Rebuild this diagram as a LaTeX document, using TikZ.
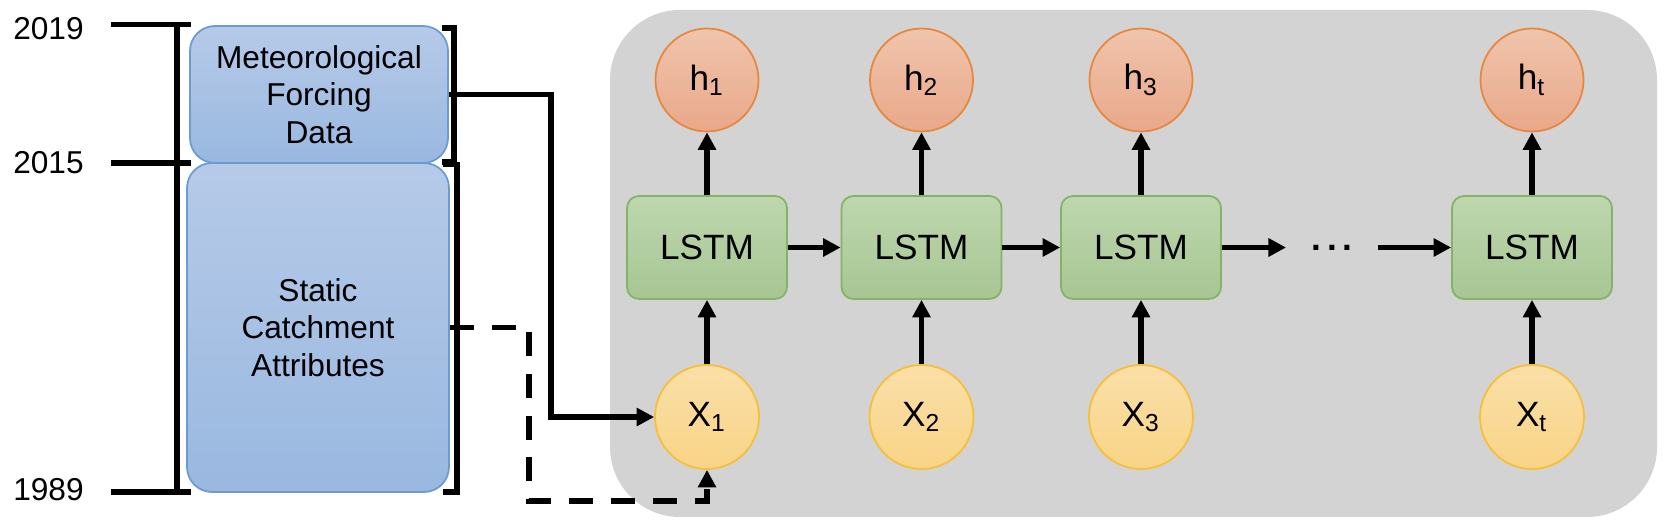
\documentclass[tikz,border=0pt]{standalone}
\usepackage{fontspec}
\setmainfont{Liberation Sans}
\usepackage{tikz}
\usetikzlibrary{arrows.meta, positioning, calc}
\definecolor{panelgray}{RGB}{211,211,211}
\definecolor{bluetop}{RGB}{182,202,232}
\definecolor{bluebot}{RGB}{153,184,224}
\definecolor{blueline}{RGB}{108,155,210}
\definecolor{greentop}{RGB}{190,215,174}
\definecolor{greenbot}{RGB}{166,198,147}
\definecolor{greenline}{RGB}{130,179,102}
\definecolor{orangetop}{RGB}{240,196,172}
\definecolor{orangebot}{RGB}{233,168,138}
\definecolor{orangeline}{RGB}{229,135,63}
\definecolor{yellowtop}{RGB}{250,223,168}
\definecolor{yellowbot}{RGB}{248,212,134}
\definecolor{yellowline}{RGB}{245,191,58}

\begin{document}
\begin{tikzpicture}[
    databox/.style={draw=blueline, line width=0.5pt, rounded corners=0.25cm, top color=bluetop, bottom color=bluebot, align=center, inner sep=0pt, font=\fontsize{9}{10.7}\selectfont},
    cellbox/.style={draw=greenline, line width=0.5pt, rounded corners=0.12cm, top color=greentop, bottom color=greenbot, minimum width=1.6cm, minimum height=1.03cm, inner sep=0pt, font=\fontsize{10}{12}\selectfont},
    outnode/.style={circle, draw=orangeline, line width=0.5pt, top color=orangetop, bottom color=orangebot, minimum size=1.03cm, inner sep=0pt, font=\fontsize{10}{12}\selectfont},
    innode/.style={circle, draw=yellowline, line width=0.5pt, top color=yellowtop, bottom color=yellowbot, minimum size=1.04cm, inner sep=0pt, font=\fontsize{10}{12}\selectfont},
    link/.style={line width=1.6pt, -{Triangle[length=5pt, width=5pt]}},
    bracket/.style={line width=1.6pt},
    year/.style={inner sep=0pt, font=\fontsize{9}{10.5}\selectfont}
]
    % Define dimensions
    \def\rowout{-0.80}
    \def\rowcell{-2.475}
    \def\rowin{-4.17}

    \useasboundingbox (0,0) rectangle (16.8,-5.26);

    % Grey panel behind the unrolled LSTM
    \fill[panelgray, rounded corners=0.7cm] (6.10,-0.10) rectangle (16.57,-5.17);

    % Year labels
    \node[year] (y2019) at (0.485,-0.29) {2019};
    \node[year] (y2015) at (0.485,-1.63) {2015};
    \node[year] (y1989) at (0.485,-4.90) {1989};

    % Time axis bracket with ticks
    \draw[bracket] (1.77,-0.245) -- (1.77,-4.92);
    \foreach \y in {0.245, 1.63, 4.92} {
        \draw[bracket] (1.11,-\y) -- (1.91,-\y);
    }

    % Input data boxes
    \node[databox, minimum width=2.58cm, minimum height=1.37cm] (met) at (3.19,-0.945) {Meteorological\\Forcing\\Data};
    \node[databox, minimum width=2.62cm, minimum height=3.29cm] (static) at (3.18,-3.275) {Static\\Catchment\\Attributes};

    % Brackets right of the boxes
    \draw[bracket] (4.42,-0.28) -- (4.54,-0.28) -- (4.54,-1.62) -- (4.42,-1.62);
    \draw[bracket] (4.43,-1.645) -- (4.57,-1.645) -- (4.57,-4.92) -- (4.43,-4.92);

    % Unrolled LSTM cells
    \foreach \x/\i in {7.07/1, 9.215/2, 11.41/3, 15.32/t} {
        \node[outnode] (h\i) at (\x,\rowout) {h\textsubscript{\i}};
        \node[cellbox] (lstm\i) at (\x,\rowcell) {LSTM};
        \node[innode] (x\i) at (\x,\rowin) {X\textsubscript{\i}};
        \draw[link] (x\i) -- (lstm\i);
        \draw[link] (lstm\i) -- (h\i);
    }

    % Dots between the third and the last cell
    \node[inner xsep=0.25cm, inner ysep=0pt, font=\fontsize{10}{12}\selectfont\bfseries] (dots) at (13.32,\rowcell) {.\hspace{1.6pt}.\hspace{1.6pt}.};

    % Hidden state passed along
    \draw[link] (lstm1) -- (lstm2);
    \draw[link] (lstm2) -- (lstm3);
    \draw[link] (lstm3) -- (dots);
    \draw[link] (dots) -- (lstmt);

    % Inputs feeding the first step
    \coordinate (metturn) at (5.51,-2.5);
    \coordinate (statturn) at (5.29,-5.01);
    \draw[link] (met.east) -| (metturn) |- (x1.west);
    \draw[link, dash pattern=on 6.8pt off 5.1pt] (static.east) -| (statturn) -| (x1.south);
\end{tikzpicture}
\end{document}
